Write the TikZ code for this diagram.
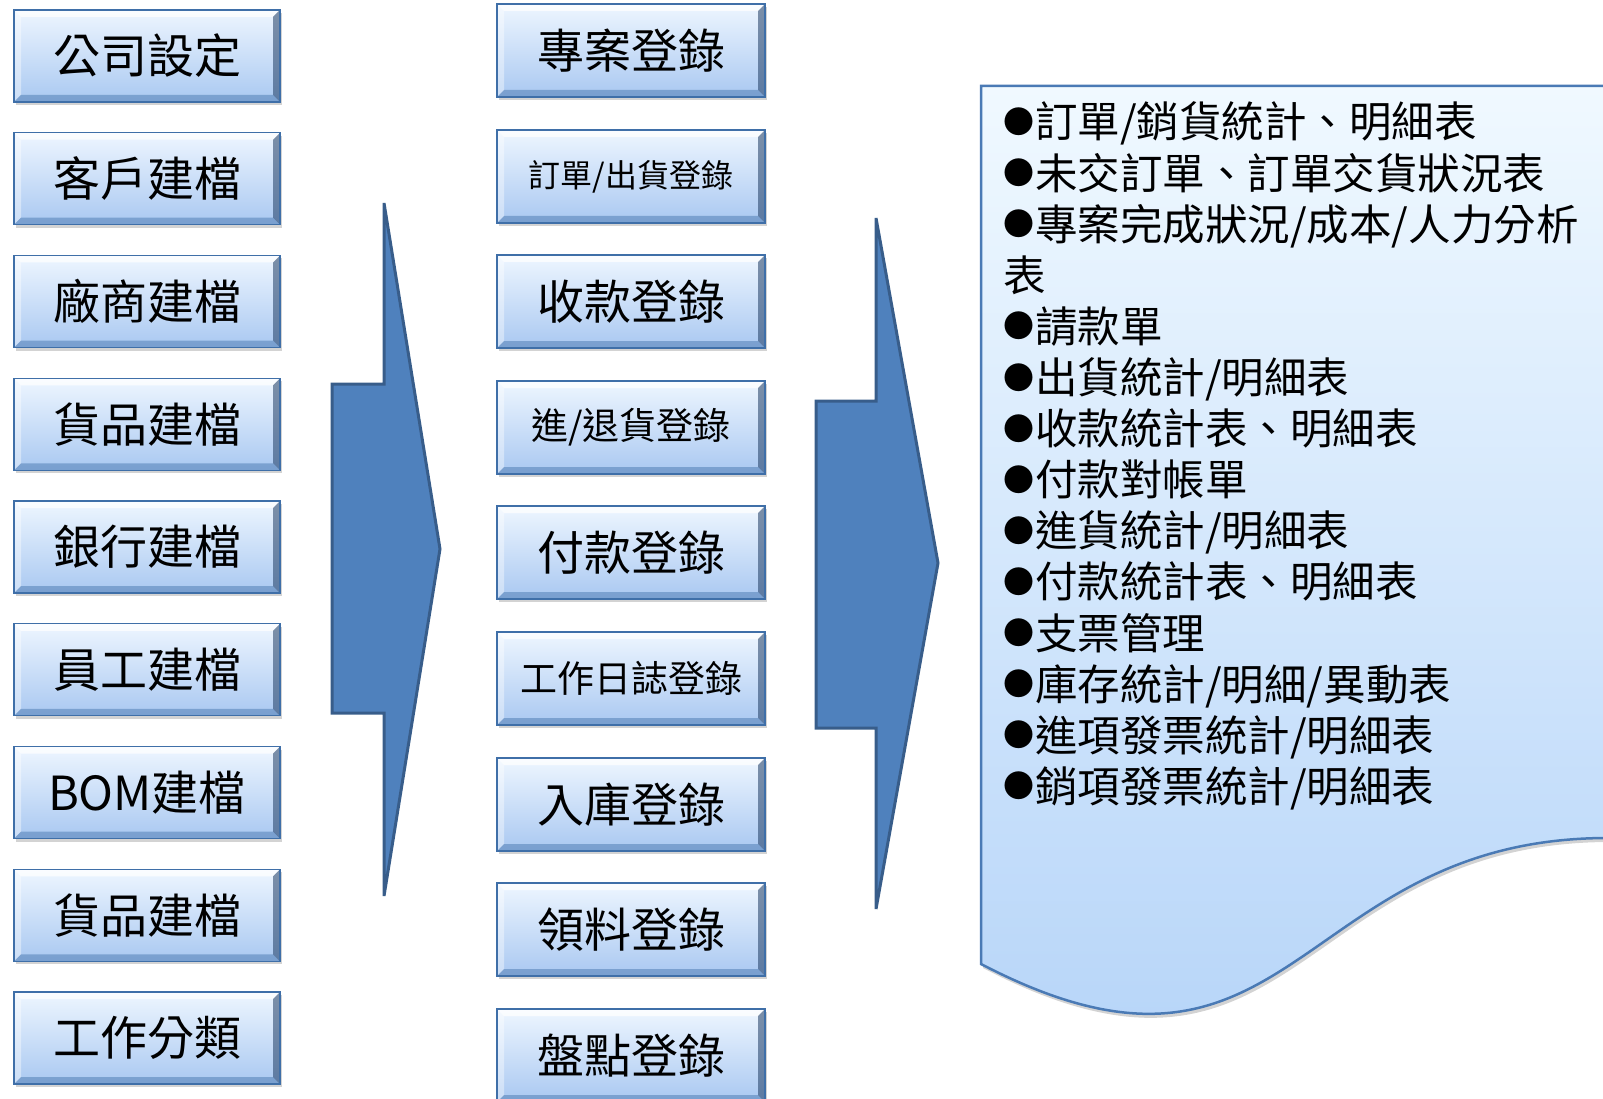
\documentclass[tikz,border=0pt]{standalone}
\usepackage{fontspec}
\setmainfont{Noto Sans CJK TC}
\usetikzlibrary{shadows}
\definecolor{boxtop}{HTML}{EEF6FF}
\definecolor{boxbot}{HTML}{A9C8F1}
\definecolor{boxline}{HTML}{3F6FA8}
\definecolor{boxdark}{HTML}{1F3C63}
\definecolor{arrfill}{HTML}{4F81BD}
\definecolor{arrline}{HTML}{385D8A}
\definecolor{doctop}{HTML}{F0F9FF}
\definecolor{docbot}{HTML}{B2D2F8}
\definecolor{docline}{HTML}{4A7AB5}
\newcommand\docbullet{\raisebox{4.5pt}{\fontsize{31pt}{31pt}\selectfont ●}\hspace{1pt}}
\tikzset{
  bevbox/.style={draw=boxline, line width=1.2pt, inner sep=0pt, top color=boxtop, bottom color=boxbot,
    drop shadow={opacity=0.35, shadow xshift=2pt, shadow yshift=-3pt}, text=black,
    path picture={
      \fill[white,opacity=0.75] (path picture bounding box.north west) -- (path picture bounding box.north east)
        -- ([shift={(-7pt,-7pt)}]path picture bounding box.north east) -- ([shift={(7pt,-7pt)}]path picture bounding box.north west) -- cycle;
      \fill[white,opacity=0.4] (path picture bounding box.north west) -- ([shift={(7pt,-7pt)}]path picture bounding box.north west)
        -- ([shift={(7pt,7pt)}]path picture bounding box.south west) -- (path picture bounding box.south west) -- cycle;
      \fill[boxdark,opacity=0.55] (path picture bounding box.north east) -- (path picture bounding box.south east)
        -- ([shift={(-7pt,7pt)}]path picture bounding box.south east) -- ([shift={(-7pt,-7pt)}]path picture bounding box.north east) -- cycle;
      \fill[boxline,opacity=0.45] (path picture bounding box.south west) -- (path picture bounding box.south east)
        -- ([shift={(-7pt,7pt)}]path picture bounding box.south east) -- ([shift={(7pt,7pt)}]path picture bounding box.south west) -- cycle;
    }},
  leftbox/.style={bevbox, minimum width=266pt, minimum height=92pt, font=\fontsize{47pt}{56pt}\selectfont},
  midbox/.style={bevbox, minimum width=268pt, minimum height=93pt, font=\fontsize{47pt}{56pt}\selectfont},
  blockarrow/.style={fill=arrfill, draw=arrline, line width=3pt, line join=miter},
  docshape/.style={top color=doctop, bottom color=docbot, draw=docline, line width=2.5pt,
    drop shadow={opacity=0.35, shadow xshift=2pt, shadow yshift=-4pt}},
  docline/.style={anchor=base west, inner sep=0pt, text=black, font=\fontsize{42.5pt}{51pt}\selectfont}
}
\begin{document}
\begin{tikzpicture}[x=1pt,y=-1pt]
\useasboundingbox (0,0) rectangle (1603,1099);
% left column
\foreach \t [count=\i] in {公司設定,客戶建檔,廠商建檔,貨品建檔,銀行建檔,員工建檔,BOM建檔,貨品建檔,工作分類}
  \node[leftbox] (L\i) at (147,{56+122.75*(\i-1)}) {\t};
% middle column
\node[midbox] (M1) at (631,50.5) {專案登錄};
\node[midbox, font=\fontsize{32pt}{40pt}\selectfont] (M2) at (631,176.5) {訂單/出貨登錄};
\node[midbox] (M3) at (631,301.5) {收款登錄};
\node[midbox, font=\fontsize{37pt}{44pt}\selectfont] (M4) at (631,427.5) {進/退貨登錄};
\node[midbox] (M5) at (631,552.5) {付款登錄};
\node[midbox, font=\fontsize{37pt}{44pt}\selectfont] (M6) at (631,678.5) {工作日誌登錄};
\node[midbox] (M7) at (631,804.5) {入庫登錄};
\node[midbox] (M8) at (631,929.5) {領料登錄};
\node[midbox] (M9) at (631,1055.5) {盤點登錄};
% block arrows
\draw[blockarrow] (332,384) -- (384,384) -- (384,203) -- (440,549) -- (384,896) -- (384,713) -- (332,713) -- cycle;
\draw[blockarrow] (816,401) -- (876,401) -- (876,218) -- (938,563) -- (876,909) -- (876,728) -- (816,728) -- cycle;
% document shape
\draw[docshape] (981,86) -- (1608,86) -- (1608,838) .. controls (1294,838) and (1294,1127) .. (981,964) -- cycle;
\foreach \t [count=\i] in {\docbullet 訂單/銷貨統計、明細表,\docbullet 未交訂單、訂單交貨狀況表,\docbullet 專案完成狀況/成本/人力分析,表,\docbullet 請款單,\docbullet 出貨統計/明細表,\docbullet 收款統計表、明細表,\docbullet 付款對帳單,\docbullet 進貨統計/明細表,\docbullet 付款統計表、明細表,\docbullet 支票管理,\docbullet 庫存統計/明細/異動表,\docbullet 進項發票統計/明細表,\docbullet 銷項發票統計/明細表}
  \node[docline] (T\i) at (1003,{138+51.1*(\i-1)}) {\t};
\end{tikzpicture}
\end{document}
